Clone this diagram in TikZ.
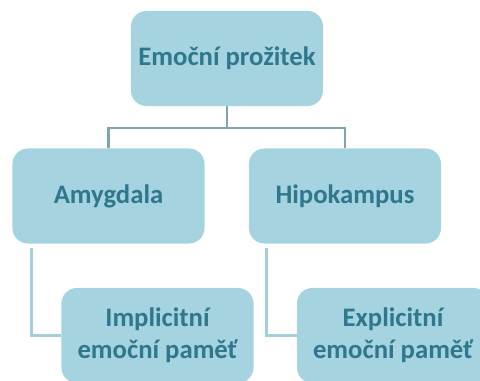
\documentclass[tikz,border=0pt]{standalone}
\usepackage{fontspec}
\setmainfont{Carlito}
\usepackage{xcolor}
\usetikzlibrary{arrows.meta, positioning, calc}
\definecolor{blockfill}{HTML}{A5D3DF}
\definecolor{blocktext}{HTML}{2F778C}
\definecolor{linkdark}{HTML}{80A4AF}
\definecolor{linklight}{HTML}{A3CFDA}

\begin{document}
\begin{tikzpicture}[
    x=0.025cm, y=-0.025cm,
    every node/.style={font=\bfseries\fontsize{19}{22.5}\selectfont},
    block/.style={rectangle, rounded corners=11pt, fill=blockfill, text=blocktext, minimum width=4.8cm, minimum height=2.375cm, align=center, inner sep=2pt},
    link/.style={draw=linkdark, line width=1.6pt},
    sublink/.style={draw=linklight, line width=2pt}
]
\useasboundingbox (0,0) rectangle (480,381);

\node[block] (top)  at (227, 58.5)   {Emoční prožitek};
\node[block] (amyg) at (108.5, 196)  {Amygdala};
\node[block] (hipo) at (345, 196)    {Hipokampus};
\node[block] (impl) at (157.5, 335.5) {Implicitní\\emoční paměť};
\node[block] (expl) at (393, 335.5)  {Explicitní\\emoční paměť};

% top level
\draw[link] (top.south) -- ++(0,22) -| (amyg.north);
\draw[link] (top.south) -- ++(0,22) -| (hipo.north);

% lower level
\draw[sublink] (amyg.south west) ++(19,4) |- (impl.west);
\draw[sublink] (hipo.south west) ++(18,4) |- (expl.west);

\end{tikzpicture}
\end{document}
